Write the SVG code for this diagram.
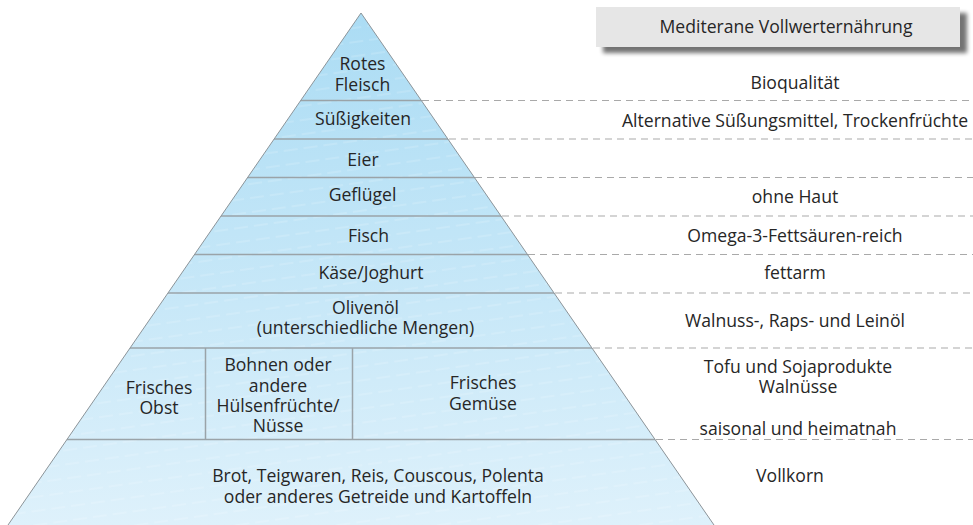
<svg xmlns="http://www.w3.org/2000/svg" width="973" height="525" viewBox="0 0 973 525">
  <style>
    text { font-family: "Open Sans", Lato, "Liberation Sans", sans-serif; font-size: 17.6px; fill: #262626; text-anchor: middle; }
    .divider { stroke: #9aa3a8; stroke-width: 1.5; fill: none; }
    .guide { stroke: #a9a9a9; stroke-width: 1.2; stroke-dasharray: 7 5; fill: none; }
    .edge { stroke: #8c9499; stroke-width: 1; fill: none; }
  </style>
  <defs>
    <linearGradient id="pyrFill" x1="0" y1="0" x2="0" y2="1">
      <stop offset="0" stop-color="#abdcf4"/>
      <stop offset="1" stop-color="#def1fb"/>
    </linearGradient>
    <pattern id="streaks" width="60" height="14" patternUnits="userSpaceOnUse" patternTransform="rotate(-8)">
      <line x1="0" y1="7" x2="60" y2="7" stroke="#ffffff" stroke-opacity="0.35" stroke-width="0.8" stroke-dasharray="14 6"/>
    </pattern>
    <filter id="boxShadow" x="-5%" y="-30%" width="115%" height="170%">
      <feGaussianBlur in="SourceAlpha" stdDeviation="2"/>
      <feOffset dx="7" dy="6" result="b"/>
      <feComponentTransfer><feFuncA type="linear" slope="0.55"/></feComponentTransfer>
      <feMerge><feMergeNode/><feMergeNode in="SourceGraphic"/></feMerge>
    </filter>
    <clipPath id="pyrClip"><polygon points="361,13 714,525 8,525"/></clipPath>
  </defs>

  <!-- pyramid body -->
  <g id="pyramid">
    <polygon points="361,13 714,525 8,525" fill="url(#pyrFill)"/>
    <polygon points="361,13 714,525 8,525" fill="url(#streaks)"/>
    <g clip-path="url(#pyrClip)">
      <line class="divider" x1="0" y1="100.5" x2="973" y2="100.5"/>
      <line class="divider" x1="0" y1="139" x2="973" y2="139"/>
      <line class="divider" x1="0" y1="177.5" x2="973" y2="177.5"/>
      <line class="divider" x1="0" y1="216" x2="973" y2="216"/>
      <line class="divider" x1="0" y1="254.5" x2="973" y2="254.5"/>
      <line class="divider" x1="0" y1="293" x2="973" y2="293"/>
      <line class="divider" x1="0" y1="348" x2="973" y2="348"/>
      <line class="divider" x1="0" y1="439.5" x2="973" y2="439.5"/>
      <line class="divider" x1="205.5" y1="348" x2="205.5" y2="439.5"/>
      <line class="divider" x1="352.5" y1="348" x2="352.5" y2="439.5"/>
    </g>
    <polyline class="edge" points="8,525 361,13 714,525"/>
  </g>

  <!-- dashed guide lines to the annotation column -->
  <g id="connectors">
    <line class="guide" x1="422" y1="100.5" x2="973" y2="100.5"/>
    <line class="guide" x1="449" y1="139" x2="973" y2="139"/>
    <line class="guide" x1="475" y1="177.5" x2="973" y2="177.5"/>
    <line class="guide" x1="502" y1="216" x2="973" y2="216"/>
    <line class="guide" x1="528" y1="254.5" x2="973" y2="254.5"/>
    <line class="guide" x1="555" y1="293" x2="973" y2="293"/>
    <line class="guide" x1="593" y1="348" x2="973" y2="348"/>
    <line class="guide" x1="656" y1="439.5" x2="973" y2="439.5"/>
  </g>

  <!-- title box -->
  <g id="title">
    <rect x="596" y="7" width="364" height="40" fill="#e6e6e6" filter="url(#boxShadow)"/>
    <text x="786" y="33">Mediterane Vollwerternährung</text>
  </g>

  <!-- pyramid tiers -->
  <g id="tier-fleisch"><text x="362.5" y="70">Rotes</text><text x="362.5" y="91">Fleisch</text></g>
  <g id="tier-suess"><text x="363" y="125">Süßigkeiten</text></g>
  <g id="tier-eier"><text x="363" y="166">Eier</text></g>
  <g id="tier-gefluegel"><text x="362.5" y="201">Geflügel</text></g>
  <g id="tier-fisch"><text x="368.5" y="242">Fisch</text></g>
  <g id="tier-kaese"><text x="371" y="278.5">Käse/Joghurt</text></g>
  <g id="tier-oel"><text x="365.5" y="314">Olivenöl</text><text x="365.5" y="334">(unterschiedliche Mengen)</text></g>
  <g id="tier-obst"><text x="159" y="393.5">Frisches</text><text x="159" y="414">Obst</text></g>
  <g id="tier-bohnen"><text x="278" y="371">Bohnen oder</text><text x="278" y="391.5">andere</text><text x="278" y="412">Hülsenfrüchte/</text><text x="278" y="432">Nüsse</text></g>
  <g id="tier-gemuese"><text x="483" y="389">Frisches</text><text x="483" y="410">Gemüse</text></g>
  <g id="tier-getreide"><text x="378" y="481.5">Brot, Teigwaren, Reis, Couscous, Polenta</text><text x="378" y="503">oder anderes Getreide und Kartoffeln</text></g>

  <!-- annotations -->
  <g id="notes">
    <text x="795" y="89">Bioqualität</text>
    <text x="795" y="127">Alternative Süßungsmittel, Trockenfrüchte</text>
    <text x="795" y="203">ohne Haut</text>
    <text x="795" y="242">Omega-3-Fettsäuren-reich</text>
    <text x="795" y="279">fettarm</text>
    <text x="795" y="327">Walnuss-, Raps- und Leinöl</text>
    <text x="798" y="373">Tofu und Sojaprodukte</text>
    <text x="798" y="393">Walnüsse</text>
    <text x="798" y="435">saisonal und heimatnah</text>
    <text x="790" y="482">Vollkorn</text>
  </g>
</svg>
